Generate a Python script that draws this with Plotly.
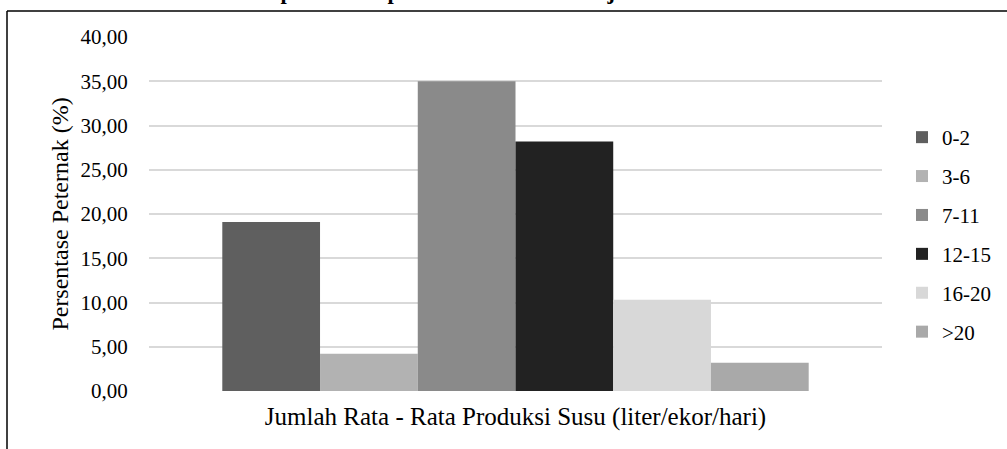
import plotly.graph_objects as go

# Milk production classes (liter/cow/day) and share of farmers in each class
category = ["Jumlah Rata - Rata Produksi Susu (liter/ekor/hari)"]
classes = ["0-2", "3-6", "7-11", "12-15", "16-20", ">20"]
shares = [19.1, 4.2, 35.0, 28.2, 10.3, 3.2]
colors = ["#5f5f5f", "#b2b2b2", "#8a8a8a", "#222222", "#d8d8d8", "#a9a9a9"]

y_ticks = [0, 5, 10, 15, 20, 25, 30, 35, 40]
y_tick_text = [f"{v:.2f}".replace(".", ",") for v in y_ticks]

FONT = "Liberation Serif, Times New Roman, serif"

fig = go.Figure()
for name, val, col in zip(classes, shares, colors):
    fig.add_trace(go.Bar(
        x=category, y=[val], name=name, legendgroup=name,
        marker=dict(color=col, line=dict(width=0)),
        hovertemplate=name + ": %{y:.2f}<extra></extra>",
    ))

# plot area in pixels: x 149..882, y 37..391
W, H = 1007, 449
L, R, T, B = 149, 125, 37, 58
pw, ph = W - L - R, H - T - B

def px(x):
    return (x - L) / pw

def py(y):
    return (H - B - y) / ph

fig.update_layout(
    width=W, height=H,
    margin=dict(l=L, r=R, t=T, b=B, autoexpand=False),
    paper_bgcolor="white", plot_bgcolor="white",
    font=dict(family=FONT, color="#000000"),
    barmode="group", bargap=0.2, bargroupgap=0,
    showlegend=True,
    legend=dict(
        x=px(902), y=py(117), xanchor="left", yanchor="top",
        font=dict(size=21, family=FONT),
        traceorder="grouped", tracegroupgap=8.6,
        bgcolor="rgba(0,0,0,0)", itemwidth=30,
    ),
    xaxis=dict(
        showgrid=False, zeroline=False, showline=False,
        ticks="outside", ticklen=3, tickcolor="rgba(0,0,0,0)",
        tickfont=dict(size=25, family=FONT),
    ),
    yaxis=dict(
        range=[0, 40], tickvals=y_ticks, ticktext=y_tick_text,
        showgrid=True, gridcolor="#d9d9d9", gridwidth=1.5,
        zeroline=False, showline=False,
        ticks="outside", ticklen=16, tickcolor="rgba(0,0,0,0)",
        tickfont=dict(size=21, family=FONT),
        title=dict(text="Persentase Peternak (%)",
                   font=dict(size=24, family=FONT), standoff=5),
    ),
    shapes=[
        # chart frame (top and left edges)
        dict(type="line", xref="paper", yref="paper",
             x0=px(7), x1=px(1010), y0=py(11), y1=py(11),
             line=dict(color="black", width=1.5)),
        dict(type="line", xref="paper", yref="paper",
             x0=px(7), x1=px(7), y0=py(11), y1=py(452),
             line=dict(color="black", width=1.5)),
    ],
    annotations=[
        dict(text="<b>Grafik persentase peternak berdasarkan jumlah rata-rata</b>",
             xref="paper", yref="paper", x=px(208), y=py(-8),
             xanchor="left", yanchor="middle", showarrow=False,
             font=dict(size=22.5, family=FONT, color="black")),
    ],
)

fig.write_html("out.html")
